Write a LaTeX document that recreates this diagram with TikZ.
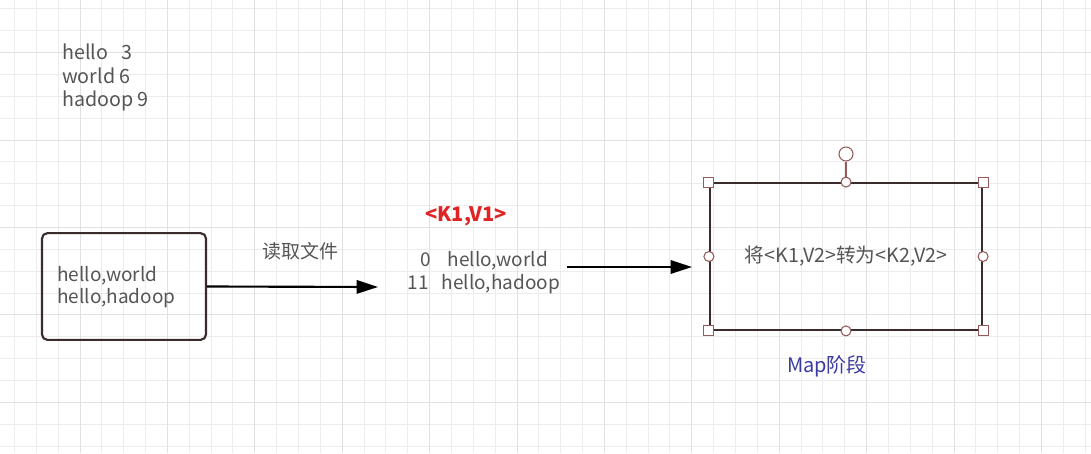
\documentclass[tikz,border=0pt]{standalone}
\usepackage{fontspec}
\setmainfont{Noto Sans CJK SC}
\usetikzlibrary{arrows.meta, positioning}
\definecolor{txtgray}{RGB}{85,85,85}
\definecolor{gridminor}{RGB}{236,236,236}
\definecolor{gridmajor}{RGB}{225,225,225}
\definecolor{boxline}{RGB}{58,44,44}
\definecolor{handle}{RGB}{150,90,90}
\definecolor{kvred}{RGB}{225,35,35}
\definecolor{mapblue}{RGB}{60,60,160}
\tikzset{
    flow/.style={line width=1.6pt, -{Triangle[length=16pt, width=10pt]}},
    hsquare/.style={draw=handle, fill=white, line width=0.8pt, minimum size=7.5pt, inner sep=0pt},
    hcircle/.style={draw=handle, fill=white, line width=0.8pt, circle, minimum size=7.5pt, inner sep=0pt}
}

\begin{document}
\begin{tikzpicture}[x=0.75pt, y=-0.75pt, every node/.style={font=\fontsize{14.25}{16.5}\selectfont, text=txtgray}]
            \useasboundingbox (0,0) rectangle (1091,453);
            \fill[white] (0,0) rectangle (1091,453);
            % grid
            \foreach \i in {0,...,49} {
                \draw[gridminor, line width=0.75pt] ({14.45+21.85*\i},0) -- ++(0,453);
            }
            \foreach \j in {0,...,20} {
                \draw[gridminor, line width=0.75pt] (0,{9+21.85*\j}) -- ++(1091,0);
            }
            \foreach \i in {0,...,12} {
                \draw[gridmajor, line width=0.75pt] ({80+87.4*\i},0) -- ++(0,453);
            }
            \foreach \j in {0,...,4} {
                \draw[gridmajor, line width=0.75pt] (0,{52.7+87.4*\j}) -- ++(1091,0);
            }

            \node[anchor=north west, align=left, inner sep=0pt, font=\fontsize{14.75}{17.6}\selectfont] (counts) at (62,44) {hello\ \ \ 3\\world 6\\hadoop 9};

            \node[draw=boxline, line width=1.6pt, rounded corners=4pt, minimum width=123pt, minimum height=80pt] (file) at (124,286.5) {};
            \node[anchor=west, align=left, inner sep=0pt] (filetxt) at (57,287) {hello,world\\hello,hadoop};

            \node (read) at (300,251) {读取文件};
            \coordinate (readend) at (378,287);
            \draw[flow] (file.east) -- (readend);

            \node[text=kvred, font=\fontsize{15}{17}\selectfont\bfseries] (k1v1) at (466,216) {<K1,V1>};
            \node[align=center, inner sep=0pt, font=\fontsize{14.25}{17.2}\selectfont] (kv) at (484,273) {0\ \ \ \ hello,world\\11\ \ \ hello,hadoop};

            \node[draw=boxline, line width=1.6pt, minimum width=204pt, minimum height=110pt, font=\fontsize{14.75}{17}\selectfont] (map) at (846,256.5) {将<K1,V2>转为<K2,V2>};
            \coordinate (mapin) at (567,267);
            \coordinate (mapend) at (692,267);
            \draw[flow] (mapin) -- (mapend);

            % selection handles
            \node[hcircle, minimum size=10.5pt] (rot) at (846,154) {};
            \draw[handle, line width=0.8pt] (rot) -- (map.north);
            \foreach \a/\n in {north west/nw, north east/ne, south west/sw, south east/se} {
                \node[hsquare] (h\n) at (map.\a) {};
            }
            \foreach \a in {north, south, east, west} {
                \node[hcircle] (c\a) at (map.\a) {};
            }

            \node[text=mapblue, font=\fontsize{15}{17}\selectfont] (phase) at (827,366) {Map阶段};
        \end{tikzpicture}
\end{document}
